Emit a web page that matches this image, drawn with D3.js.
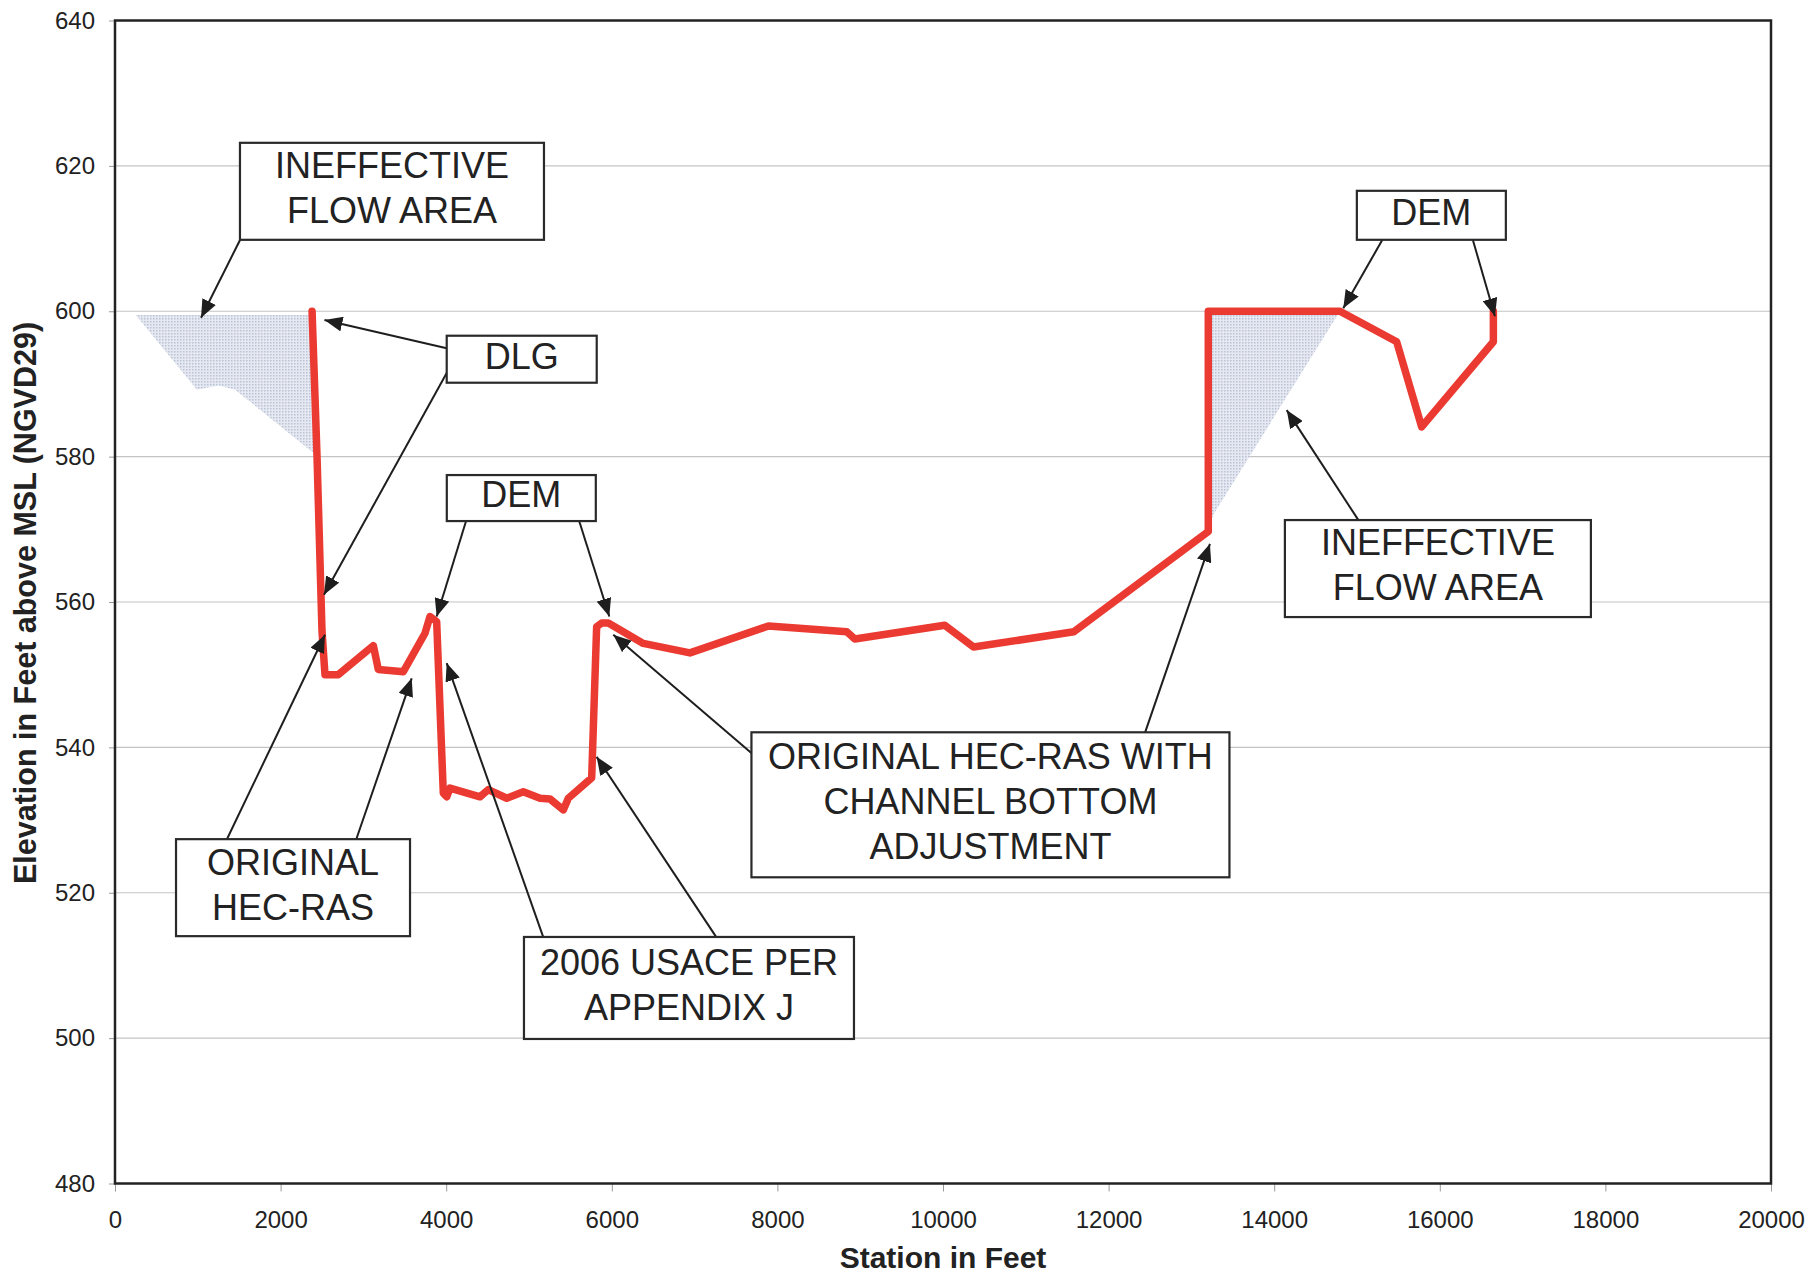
<!DOCTYPE html>
<html>
<head>
<meta charset="utf-8">
<script src="https://cdn.jsdelivr.net/npm/d3@7"></script>
<style>
  body { margin: 0; background: #fff; }
  text { font-family: "Liberation Sans", Arial, sans-serif; }
</style>
</head>
<body>
<div id="chart"></div>
<script>
// cross section profile, station (ft) / elevation (ft)
var stations = [2380, 2440, 2500, 2536, 2697, 3120, 3180, 3482, 3744, 3804, 3885,
  3965, 4006, 4046, 4408, 4509, 4731, 4931, 5133, 5254, 5414, 5475, 5757,
  5817, 5878, 5958, 6380, 6944, 7891, 8838, 8935, 10021, 10369, 11580,
  13204, 13204, 14794, 15479, 15781, 16647, 16647];
var elevations = [600, 580, 556, 550, 550, 554, 550.7, 550.4, 555.7, 558, 557.3,
  533.7, 533.2, 534.4, 533.2, 534.2, 533.0, 533.9, 533.0, 532.9, 531.4, 533.0, 535.8,
  556.6, 557.1, 557.1, 554.3, 553.0, 556.7, 555.9, 554.9, 556.8, 553.8, 555.9,
  569.7, 600, 600, 595.8, 584.1, 595.8, 600];

// ineffective flow areas (shaded)
var leftIneffStations = [250, 990, 1250, 1450, 2420, 2382];
var leftIneffElev = [599.5, 589.2, 589.8, 589.2, 580.3, 599.5];
var rightIneffStations = [13204, 14794, 13264, 13204];
var rightIneffElev = [600, 600, 572, 570];

var xTicks = [0, 2000, 4000, 6000, 8000, 10000, 12000, 14000, 16000, 18000, 20000];
var yTicks = [480, 500, 520, 540, 560, 580, 600, 620, 640];

// callouts: box centre and arrows given in station / elevation
var callouts = [
  { lines: ["INEFFECTIVE", "FLOW AREA"], s: 3345, e: 616.5, w: 304, h: 97,
    arrows: [[1510, 609.8, 1039, 599.1]] },
  { lines: ["DLG"], s: 4912, e: 593.4, w: 150, h: 47,
    arrows: [[4006, 594.9, 2530, 598.8], [4006, 591.5, 2524, 561.0]] },
  { lines: ["DEM"], s: 4907, e: 574.3, w: 149, h: 46,
    arrows: [[4239, 571.1, 3885, 558.0], [5607, 571.1, 5970, 558.0]] },
  { lines: ["ORIGINAL", "HEC-RAS"], s: 2150, e: 520.7, w: 234, h: 97,
    arrows: [[1353, 527.4, 2536, 555.5], [2915, 527.4, 3583, 549.5]] },
  { lines: ["2006 USACE PER", "APPENDIX J"], s: 6932, e: 506.9, w: 330, h: 102,
    arrows: [[5169, 514.0, 4006, 551.6], [7256, 514.0, 5817, 538.7]] },
  { lines: ["ORIGINAL HEC-RAS WITH", "CHANNEL BOTTOM", "ADJUSTMENT"], s: 10573, e: 532.1, w: 478, h: 145,
    arrows: [[7689, 539.2, 6018, 555.5], [12439, 542.0, 13224, 568.0]] },
  { lines: ["INEFFECTIVE", "FLOW AREA"], s: 15977, e: 564.6, w: 306, h: 97,
    arrows: [[15015, 571.3, 14151, 586.4]] },
  { lines: ["DEM"], s: 15898, e: 613.2, w: 149, h: 49,
    arrows: [[15310, 609.9, 14834, 600.4], [16397, 609.9, 16666, 599.3]] }
];

var W = 1809, H = 1274;
var plotL = 115, plotR = 1771, plotT = 20.5, plotB = 1183.5;

var x = d3.scaleLinear().domain([0, 20000]).range([plotL, plotR]);
var y = d3.scaleLinear().domain([480, 640]).range([plotB, plotT]);

var svg = d3.select("#chart").append("svg")
    .attr("width", W)
    .attr("height", H);

var defs = svg.append("defs");
defs.append("marker")
    .attr("id", "head")
    .attr("markerUnits", "userSpaceOnUse")
    .attr("markerWidth", 19)
    .attr("markerHeight", 15)
    .attr("refX", 18)
    .attr("refY", 7.5)
    .attr("orient", "auto")
  .append("path")
    .attr("d", "M0,0 L18,7.5 L0,15 Z")
    .attr("fill", "#1e1e1e");

// dotted fill like the printed hatch
var pat = defs.append("pattern")
    .attr("id", "dots")
    .attr("patternUnits", "userSpaceOnUse")
    .attr("width", 3).attr("height", 3);
pat.append("rect").attr("width", 3).attr("height", 3).attr("fill", "#e6e9f1");
pat.append("rect").attr("width", 1.5).attr("height", 1.5).attr("fill", "#b9c2d6");

// gridlines
svg.append("g").selectAll("line")
    .data(yTicks)
    .enter().append("line")
    .attr("x1", plotL).attr("x2", plotR)
    .attr("y1", function(d) { return y(d); })
    .attr("y2", function(d) { return y(d); })
    .attr("stroke", "#c4c4c4")
    .attr("stroke-width", 1.2);

// axes
var xAxis = svg.append("g")
    .attr("transform", "translate(0," + plotB + ")")
    .call(d3.axisBottom(x).tickValues(xTicks).tickSize(8).tickPadding(19).tickFormat(d3.format("d")));
var yAxis = svg.append("g")
    .attr("transform", "translate(" + plotL + ",0)")
    .call(d3.axisLeft(y).tickValues(yTicks).tickSize(6).tickPadding(14).tickFormat(d3.format("d")));
[xAxis, yAxis].forEach(function(a) {
  a.select(".domain").remove();
  a.selectAll(".tick line").attr("stroke", "#999");
  a.selectAll(".tick text")
    .attr("font-size", "24px")
    .attr("fill", "#222")
    .style("font-family", "'Liberation Sans', Arial, sans-serif");
});

// shaded ineffective areas
function poly(ss, ee) {
  return ss.map(function(s, i) { return [x(s), y(ee[i])]; });
}
svg.append("path")
    .attr("d", d3.line()(poly(leftIneffStations, leftIneffElev)) + "Z")
    .attr("fill", "url(#dots)");
svg.append("path")
    .attr("d", d3.line()(poly(rightIneffStations, rightIneffElev)) + "Z")
    .attr("fill", "url(#dots)");

// profile line
svg.append("path")
    .attr("d", d3.line()(poly(stations, elevations)))
    .attr("fill", "none")
    .attr("stroke", "#eb3a31")
    .attr("stroke-width", 7.5)
    .attr("stroke-linejoin", "round")
    .attr("stroke-linecap", "round");

// plot frame
svg.append("rect")
    .attr("x", plotL).attr("y", plotT)
    .attr("width", plotR - plotL).attr("height", plotB - plotT)
    .attr("fill", "none")
    .attr("stroke", "#222")
    .attr("stroke-width", 2.5);

// callouts
var lineH = 45;
callouts.forEach(function(c) {
  var cx = x(c.s), cy = y(c.e);
  c.arrows.forEach(function(a) {
    svg.append("line")
      .attr("x1", x(a[0])).attr("y1", y(a[1]))
      .attr("x2", x(a[2])).attr("y2", y(a[3]))
      .attr("stroke", "#1e1e1e")
      .attr("stroke-width", 2)
      .attr("marker-end", "url(#head)");
  });
  svg.append("rect")
    .attr("x", cx - c.w / 2).attr("y", cy - c.h / 2)
    .attr("width", c.w).attr("height", c.h)
    .attr("fill", "#fff")
    .attr("stroke", "#2a2a2a")
    .attr("stroke-width", 2.2);
  var n = c.lines.length;
  var b1 = cy - 3.5 - (lineH * (n - 1) - 25.8) / 2;
  c.lines.forEach(function(t, i) {
    svg.append("text")
      .attr("x", cx).attr("y", b1 + i * lineH)
      .attr("text-anchor", "middle")
      .attr("font-size", "36px")
      .attr("fill", "#222")
      .text(t);
  });
});

// axis titles
svg.append("text")
    .attr("x", (plotL + plotR) / 2)
    .attr("y", 1268)
    .attr("text-anchor", "middle")
    .attr("font-size", "30px")
    .attr("font-weight", "bold")
    .attr("fill", "#222")
    .text("Station in Feet");
svg.append("text")
    .attr("transform", "translate(36,603) rotate(-90)")
    .attr("text-anchor", "middle")
    .attr("font-size", "30.5px")
    .attr("font-weight", "bold")
    .attr("fill", "#222")
    .text("Elevation in Feet above MSL (NGVD29)");
</script>
</body>
</html>
